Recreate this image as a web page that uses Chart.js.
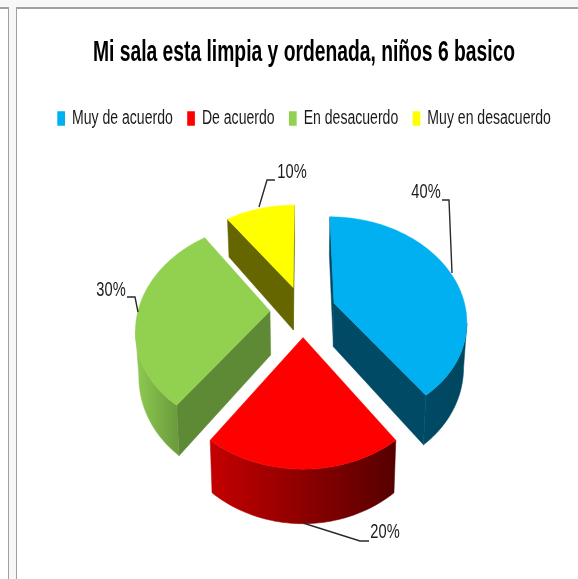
<!DOCTYPE html>
<html><head><meta charset="utf-8">
<style>html,body{margin:0;padding:0;background:#fff}canvas{display:block}</style>
<script src="https://cdn.jsdelivr.net/npm/chart.js@4"></script>
</head><body><canvas id="c" width="578" height="579"></canvas>
<script>
const categories = ['Muy de acuerdo','De acuerdo','En desacuerdo','Muy en desacuerdo'];
const percentages = [40,20,30,10];
const topColors = ['#00B0F0','#FF0000','#92D050','#FFFF00'];
const chartTitle = 'Mi sala esta limpia y ordenada, niños 6 basico';
const FONT = '"Liberation Sans",sans-serif';

// per-slice look of the 3D walls
const wallColors = ['#004A66','#8A0000','#5F8A35','#666600'];
const rimGradients = [['#004A66','#00465F'],['#C40000','#560000'],['#8FCB52','#6C9C3D'],['#666600','#666600']];
const paintOrder = [3,0,2,1];
// leader lines and label centres (pixel layout only)
const leaders = [
  {text:[426,192], line:[[442,200],[449,200],[452,273]]},
  {text:[385,532], line:[[369,541],[360,541],[303,523]]},
  {text:[111,290], line:[[127,297],[135,297],[138,312]]},
  {text:[292,172], line:[[275,180],[267,180],[259,207]]}
];
// perspective camera of the tilted pie
const cam = {cx:303, cy:311, f:132, g:102, k:0.155, explode:0.25, depth:44, shrink:0.98};
// the reference type is tall and narrow: boxes are stretched around these centres
const titleLook = {size:19.3, stretch:1.56, squeeze:1, centerY:62, centerX:304, shiftX:0};
const legendLook = {size:14.65, stretch:1.4, squeeze:0.96, centerY:115, centerX:305.5, shiftX:0};

function project(X,Y,low){
  const w = 1 + cam.k*Y;
  const dx = cam.f*X/w, dy = -cam.g*Y/w;
  return low ? [cam.cx+dx*cam.shrink, cam.cy+dy+cam.depth/w] : [cam.cx+dx, cam.cy+dy];
}
function poly(ctx,pts,fill){
  ctx.beginPath();
  pts.forEach((p,i)=> i?ctx.lineTo(p[0],p[1]):ctx.moveTo(p[0],p[1]));
  ctx.closePath();
  ctx.fillStyle=fill; ctx.fill();
  ctx.strokeStyle=fill; ctx.lineWidth=0.5; ctx.stroke();
}
function drawSlice(ctx,arc,i){
  const a0=arc.startAngle, a1=arc.endAngle, mid=(a0+a1)/2;
  const ox=cam.explode*Math.cos(mid), oy=-cam.explode*Math.sin(mid);
  const pt=(a,low)=>project(ox+Math.cos(a), oy-Math.sin(a), low);
  const apex=project(ox,oy,false), apexLow=project(ox,oy,true);
  const n=Math.max(8,Math.round((a1-a0)*40));
  const angles=[]; for(let s=0;s<=n;s++) angles.push(a0+(a1-a0)*s/n);
  const top=angles.map(a=>pt(a,false)), low=angles.map(a=>pt(a,true));
  if(top[0][0]<apex[0]) poly(ctx,[apex,top[0],low[0],apexLow],wallColors[i]);
  if(top[n][0]>apex[0]) poly(ctx,[apex,top[n],low[n],apexLow],wallColors[i]);
  const T=[],B=[];
  for(let s=0;s<n;s++){
    if(top[s+1][0]<top[s][0]){
      if(!T.length){T.push(top[s]);B.push(low[s]);}
      T.push(top[s+1]);B.push(low[s+1]);
    }
  }
  if(T.length>1){
    const xs=T.map(p=>p[0]);
    const g=ctx.createLinearGradient(Math.min(...xs),0,Math.max(...xs),0);
    g.addColorStop(0,rimGradients[i][0]); g.addColorStop(1,rimGradients[i][1]);
    poly(ctx,T.concat(B.slice().reverse()),g);
  }
  poly(ctx,[apex].concat(top),topColors[i]);
}
function stretchBox(box,look,chart){
  if(box.__stretched) return;
  box.__stretched=true;
  const draw=box.draw.bind(box);
  box.draw=function(){
    const c=chart.ctx, mid=box.top+box.height/2;
    c.save();
    c.translate(look.centerX,look.centerY);
    c.scale(look.squeeze,look.stretch);
    c.translate(-look.centerX,-mid);
    draw();
    c.restore();
  };
}
const pie3d = {
  id:'pie3d',
  afterLayout(chart){
    stretchBox(chart.titleBlock,titleLook,chart);
    stretchBox(chart.legend,legendLook,chart);
  },
  beforeDraw(chart){
    const c=chart.ctx;
    c.save();
    c.fillStyle='#F7F7F7';
    c.fillRect(0,0,578,8); c.fillRect(9,8,7,571);
    c.fillStyle='#A0A0A0';
    c.fillRect(0,7,9,2); c.fillRect(16,7,562,2);
    c.fillRect(8,8,1,571); c.fillRect(16,8,1,571);
    c.restore();
  },
  beforeDatasetDraw(chart){
    const ctx=chart.ctx, arcs=chart.getDatasetMeta(0).data;
    ctx.save();
    paintOrder.forEach(i=>drawSlice(ctx,arcs[i],i));
    ctx.restore();
    return false;
  },
  afterDraw(chart){
    const ctx=chart.ctx;
    ctx.save();
    ctx.strokeStyle='#2a2a2a'; ctx.lineWidth=1.4;
    ctx.fillStyle='#1a1a1a'; ctx.font=legendLook.size+'px '+FONT;
    ctx.textAlign='center'; ctx.textBaseline='middle';
    leaders.forEach((l,i)=>{
      ctx.beginPath();
      l.line.forEach((p,j)=> j?ctx.lineTo(p[0],p[1]):ctx.moveTo(p[0],p[1]));
      ctx.stroke();
      ctx.save();
      ctx.translate(l.text[0],l.text[1]);
      ctx.scale(1,legendLook.stretch);
      ctx.fillText(percentages[i]+'%',0,0);
      ctx.restore();
    });
    ctx.restore();
  }
};
new Chart(document.getElementById('c'),{
  type:'pie',
  data:{labels:categories,datasets:[{data:percentages,backgroundColor:topColors,borderWidth:0}]},
  plugins:[pie3d],
  options:{
    responsive:false,animation:false,
    layout:{padding:{left:30,right:0,top:10,bottom:0}},
    plugins:{
      tooltip:{enabled:false},
      title:{display:true,text:chartTitle,color:'#000',font:{family:FONT,size:titleLook.size,weight:'bold'},padding:{top:18,bottom:30}},
      legend:{position:'top',labels:{color:'#1a1a1a',font:{family:FONT,size:legendLook.size},boxWidth:8,boxHeight:10.5,padding:15}}
    }
  }
});
</script></body></html>
